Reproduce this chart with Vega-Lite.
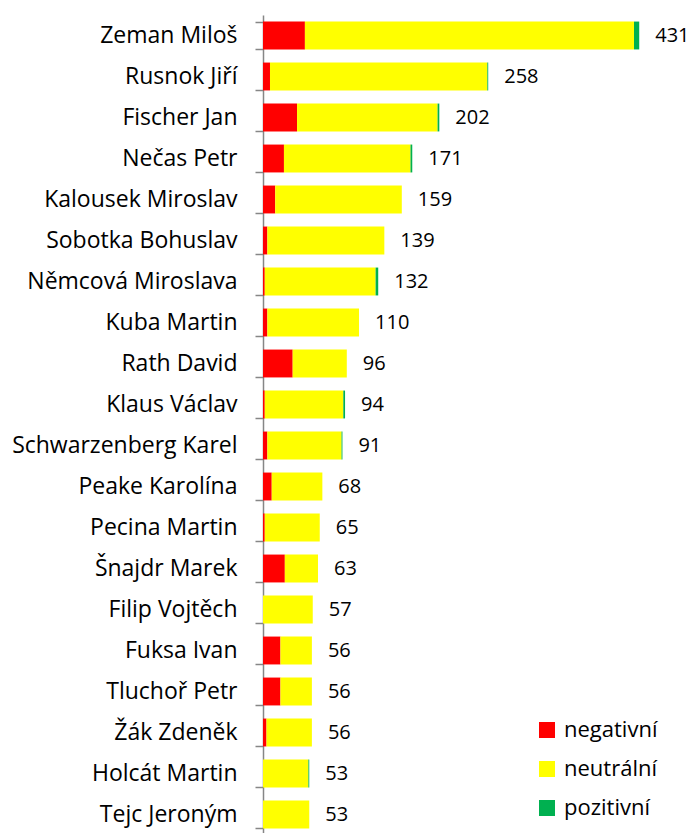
{
  "$schema": "https://vega.github.io/schema/vega-lite/v6.json",
  "autosize": {"type": "none"},
  "padding": {"left": 263, "top": 15, "right": 8, "bottom": 0},
  "width": 419,
  "height": 820,
  "background": "white",
  "config": {"view": {"stroke": null}, "font": "Open Sans"},
  "data": {"values": [
    {"name": "Zeman Miloš", "rank": 1, "s": "negativní", "o": 1, "v": 48},
    {"name": "Zeman Miloš", "rank": 1, "s": "neutrální", "o": 2, "v": 377},
    {"name": "Zeman Miloš", "rank": 1, "s": "pozitivní", "o": 3, "v": 6},
    {"name": "Rusnok Jiří", "rank": 2, "s": "negativní", "o": 1, "v": 8},
    {"name": "Rusnok Jiří", "rank": 2, "s": "neutrální", "o": 2, "v": 249},
    {"name": "Rusnok Jiří", "rank": 2, "s": "pozitivní", "o": 3, "v": 1},
    {"name": "Fischer Jan", "rank": 3, "s": "negativní", "o": 1, "v": 39},
    {"name": "Fischer Jan", "rank": 3, "s": "neutrální", "o": 2, "v": 161},
    {"name": "Fischer Jan", "rank": 3, "s": "pozitivní", "o": 3, "v": 2},
    {"name": "Nečas Petr", "rank": 4, "s": "negativní", "o": 1, "v": 24},
    {"name": "Nečas Petr", "rank": 4, "s": "neutrální", "o": 2, "v": 145},
    {"name": "Nečas Petr", "rank": 4, "s": "pozitivní", "o": 3, "v": 2},
    {"name": "Kalousek Miroslav", "rank": 5, "s": "negativní", "o": 1, "v": 14},
    {"name": "Kalousek Miroslav", "rank": 5, "s": "neutrální", "o": 2, "v": 145},
    {"name": "Sobotka Bohuslav", "rank": 6, "s": "negativní", "o": 1, "v": 5},
    {"name": "Sobotka Bohuslav", "rank": 6, "s": "neutrální", "o": 2, "v": 134},
    {"name": "Němcová Miroslava", "rank": 7, "s": "negativní", "o": 1, "v": 2},
    {"name": "Němcová Miroslava", "rank": 7, "s": "neutrální", "o": 2, "v": 127},
    {"name": "Němcová Miroslava", "rank": 7, "s": "pozitivní", "o": 3, "v": 3},
    {"name": "Kuba Martin", "rank": 8, "s": "negativní", "o": 1, "v": 5},
    {"name": "Kuba Martin", "rank": 8, "s": "neutrální", "o": 2, "v": 105},
    {"name": "Rath David", "rank": 9, "s": "negativní", "o": 1, "v": 34},
    {"name": "Rath David", "rank": 9, "s": "neutrální", "o": 2, "v": 62},
    {"name": "Klaus Václav", "rank": 10, "s": "negativní", "o": 1, "v": 2},
    {"name": "Klaus Václav", "rank": 10, "s": "neutrální", "o": 2, "v": 90},
    {"name": "Klaus Václav", "rank": 10, "s": "pozitivní", "o": 3, "v": 2},
    {"name": "Schwarzenberg Karel", "rank": 11, "s": "negativní", "o": 1, "v": 5},
    {"name": "Schwarzenberg Karel", "rank": 11, "s": "neutrální", "o": 2, "v": 85},
    {"name": "Schwarzenberg Karel", "rank": 11, "s": "pozitivní", "o": 3, "v": 1},
    {"name": "Peake Karolína", "rank": 12, "s": "negativní", "o": 1, "v": 10},
    {"name": "Peake Karolína", "rank": 12, "s": "neutrální", "o": 2, "v": 58},
    {"name": "Pecina Martin", "rank": 13, "s": "negativní", "o": 1, "v": 2},
    {"name": "Pecina Martin", "rank": 13, "s": "neutrální", "o": 2, "v": 63},
    {"name": "Šnajdr Marek", "rank": 14, "s": "negativní", "o": 1, "v": 25},
    {"name": "Šnajdr Marek", "rank": 14, "s": "neutrální", "o": 2, "v": 38},
    {"name": "Filip Vojtěch", "rank": 15, "s": "neutrální", "o": 2, "v": 57},
    {"name": "Fuksa Ivan", "rank": 16, "s": "negativní", "o": 1, "v": 20},
    {"name": "Fuksa Ivan", "rank": 16, "s": "neutrální", "o": 2, "v": 36},
    {"name": "Tluchoř Petr", "rank": 17, "s": "negativní", "o": 1, "v": 20},
    {"name": "Tluchoř Petr", "rank": 17, "s": "neutrální", "o": 2, "v": 36},
    {"name": "Žák Zdeněk", "rank": 18, "s": "negativní", "o": 1, "v": 4},
    {"name": "Žák Zdeněk", "rank": 18, "s": "neutrální", "o": 2, "v": 52},
    {"name": "Holcát Martin", "rank": 19, "s": "neutrální", "o": 2, "v": 52},
    {"name": "Holcát Martin", "rank": 19, "s": "pozitivní", "o": 3, "v": 1},
    {"name": "Tejc Jeroným", "rank": 20, "s": "neutrální", "o": 2, "v": 53}
  ]},
  "encoding": {
    "y": {
      "field": "name", "type": "nominal",
      "sort": {"field": "rank", "op": "min"},
      "scale": {"paddingInner": 0.32, "paddingOuter": 0.16},
      "axis": {
        "title": null, "domainColor": "#868686", "domainWidth": 1.5,
        "tickColor": "#868686", "tickWidth": 1.5, "tickSize": 8, "tickBand": "extent",
        "labelFontSize": 23, "labelColor": "#000000", "labelPadding": 18,
        "labelFont": "Open Sans", "labelLimit": 300
      }
    }
  },
  "layer": [
    {
      "mark": {"type": "bar"},
      "encoding": {
        "x": {"field": "v", "type": "quantitative", "stack": "zero", "scale": {"domain": [0, 480], "nice": false}, "axis": null},
        "color": {
          "field": "s", "type": "nominal",
          "scale": {"domain": ["negativní", "neutrální", "pozitivní"], "range": ["#FF0000", "#FFFF00", "#00B050"]},
          "legend": {
            "title": null, "orient": "none", "legendX": 273, "legendY": 704,
            "symbolType": "square", "symbolSize": 256, "symbolStrokeWidth": 0,
            "labelFontSize": 22, "labelFont": "Open Sans", "labelColor": "#000000",
            "rowPadding": 17, "labelOffset": 6, "padding": 0
          }
        },
        "order": {"field": "o", "type": "quantitative"}
      }
    },
    {
      "transform": [{"aggregate": [{"op": "sum", "field": "v", "as": "total"}, {"op": "min", "field": "rank", "as": "rank"}], "groupby": ["name"]}],
      "mark": {"type": "text", "align": "left", "baseline": "middle", "dx": 16, "fontSize": 20, "font": "Open Sans", "color": "#000000"},
      "encoding": {
        "x": {"field": "total", "type": "quantitative"},
        "text": {"field": "total", "type": "quantitative"}
      }
    }
  ]
}
